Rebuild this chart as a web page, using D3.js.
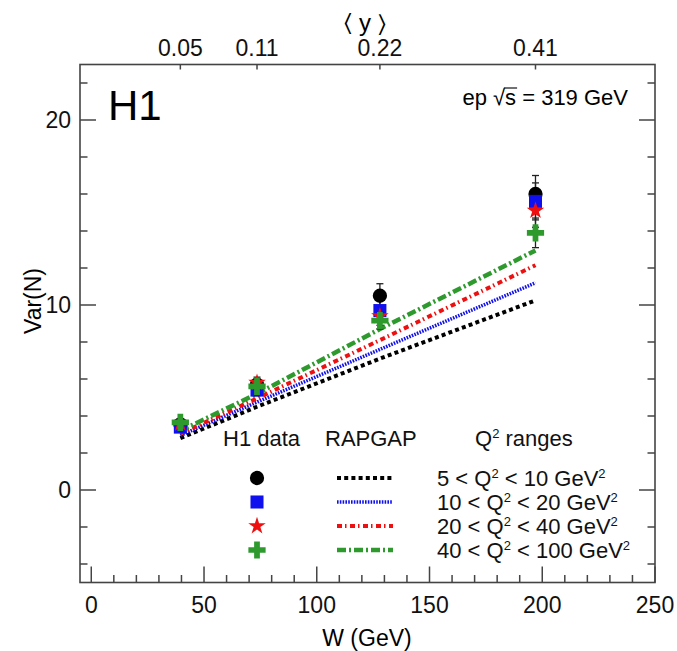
<!DOCTYPE html>
<html>
<head>
<meta charset="utf-8">
<script src="https://cdn.jsdelivr.net/npm/d3@7"></script>
<style>
  body { margin: 0; background: #fff; }
  svg { font-family: 'Liberation Sans', Arial, Helvetica, sans-serif; }
</style>
</head>
<body>
<svg id="chart" width="677" height="651"></svg>
<script>
// W values of the four bins, and the mean y in each
const wBins = [39.5, 73.5, 128, 197]
const yMean = ['0.05', '0.11', '0.22', '0.41']

const q2Labels = ['5', '10', '20', '40']
const q2Upper = ['10', '20', '40', '100']

// H1 data: Var(N) per Q2 range
const dataBlack = [3.55, 5.7, 10.5, 16.0]
const dataBlue = [3.4, 5.4, 9.7, 15.6]
const dataRed = [3.6, 5.8, 9.4, 15.1]
const dataGreen = [3.65, 5.6, 9.15, 13.9]

const errBlack = [0.25, 0.3, 0.65, 1.0]
const errBlue = [0.2, 0.3, 0.55, 1.0]
const errRed = [0.2, 0.3, 0.5, 0.9]
const errGreen = [0.2, 0.25, 0.45, 0.8]

// RAPGAP predictions
const mcBlack = [2.8, 4.5, 7.1, 10.25]
const mcBlue = [2.95, 4.75, 7.6, 11.2]
const mcRed = [3.05, 4.95, 8.1, 12.15]
const mcGreen = [3.2, 5.2, 8.7, 12.95]

const xTicks = [0, 50, 100, 150, 200, 250]
const yTicks = [0, 10, 20]

const series = [
  { data: dataBlack, err: errBlack, mc: mcBlack, color: '#000', marker: 'circle', dash: '4,3.2', lw: 4 },
  { data: dataBlue, err: errBlue, mc: mcBlue, color: '#1010ee', marker: 'square', dash: '1.6,1.2', lw: 3.5 },
  { data: dataRed, err: errRed, mc: mcRed, color: '#ee1010', marker: 'star', dash: '5,3,1.5,3.5', lw: 4 },
  { data: dataGreen, err: errGreen, mc: mcGreen, color: '#2e9a2e', marker: 'cross', dash: '9,3,2,3', lw: 4.5 },
]

const svg = d3.select('#chart')
const frameL = 80, frameR = 655, frameT = 64.5, frameB = 582.5
const x = d3.scaleLinear().domain([-5, 250]).range([frameL, frameR])
const y = d3.scaleLinear().domain([-5, 23]).range([frameB, frameT])
const axisColor = '#444'

function markerPath(kind) {
  if (kind === 'circle') return d3.symbol(d3.symbolCircle, 160)()
  if (kind === 'square') return d3.symbol(d3.symbolSquare, 170)()
  if (kind === 'star') return d3.symbol(d3.symbolStar, 95)()
  return d3.symbol(d3.symbolCross, 165)()
}

// model lines
const line = d3.line().x((d, i) => x(wBins[i])).y((d) => y(d))
const lines = svg.append('g').attr('fill', 'none')
series.forEach((s) => {
  lines.append('path')
    .attr('d', line(s.mc))
    .attr('stroke', s.color)
    .attr('stroke-width', s.lw)
    .attr('stroke-dasharray', s.dash)
})

// error bars
const errs = svg.append('g').attr('stroke', '#222').attr('stroke-width', 1.3)
series.forEach((s) => {
  s.data.forEach((v, i) => {
    const cx = x(wBins[i])
    errs.append('line').attr('x1', cx).attr('x2', cx).attr('y1', y(v - s.err[i])).attr('y2', y(v + s.err[i]))
    ;[v - s.err[i], v + s.err[i]].forEach((e) => {
      errs.append('line').attr('x1', cx - 3.5).attr('x2', cx + 3.5).attr('y1', y(e)).attr('y2', y(e))
    })
  })
})

// markers
series.forEach((s) => {
  svg.append('g')
    .selectAll('path')
    .data(s.data)
    .join('path')
    .attr('d', markerPath(s.marker))
    .attr('transform', (d, i) => `translate(${x(wBins[i])},${y(d)})`)
    .attr('fill', s.color)
})

// frame
svg.append('rect')
  .attr('x', frameL).attr('y', frameT)
  .attr('width', frameR - frameL).attr('height', frameB - frameT)
  .attr('fill', 'none').attr('stroke', axisColor).attr('stroke-width', 1.6)

// ticks (inward, both sides)
const ticks = svg.append('g').attr('stroke', axisColor).attr('stroke-width', 1.5)
d3.range(0, 251, 10).forEach((v) => {
  const len = v % 50 === 0 ? 16 : 7.5
  ticks.append('line').attr('x1', x(v)).attr('x2', x(v)).attr('y1', frameB).attr('y2', frameB - len)
})
d3.range(-4, 23, 2).forEach((v) => {
  const len = v % 10 === 0 ? 16 : 7.5
  ticks.append('line').attr('x1', frameL).attr('x2', frameL + len).attr('y1', y(v)).attr('y2', y(v))
  ticks.append('line').attr('x1', frameR).attr('x2', frameR - len).attr('y1', y(v)).attr('y2', y(v))
})
wBins.forEach((w) => {
  ticks.append('line').attr('x1', x(w)).attr('x2', x(w)).attr('y1', frameT).attr('y2', frameT + 5)
})

// tick labels
const labels = svg.append('g').attr('font-size', 23).attr('fill', '#111')
labels.selectAll('.xl').data(xTicks).join('text')
  .attr('x', (d) => x(d)).attr('y', 613).attr('text-anchor', 'middle').text((d) => d)
labels.selectAll('.yl').data(yTicks).join('text')
  .attr('x', 71).attr('y', (d) => y(d) + 8).attr('text-anchor', 'end').text((d) => d)
labels.selectAll('.tl').data(wBins).join('text')
  .attr('x', (d) => x(d)).attr('y', 56).attr('text-anchor', 'middle').text((d, i) => yMean[i])

// axis titles
svg.append('text').attr('x', 367).attr('y', 646).attr('text-anchor', 'middle')
  .attr('font-size', 23).text('W (GeV)')
svg.append('text').attr('transform', 'translate(41,301) rotate(-90)').attr('text-anchor', 'middle')
  .attr('font-size', 23).text('Var(N)')
svg.append('text').attr('x', 365).attr('y', 31).attr('text-anchor', 'middle')
  .attr('font-size', 24).text('\u2329 y \u232A')

// headers
svg.append('text').attr('x', 108).attr('y', 120).attr('font-size', 42).text('H1')
const ep = svg.append('text').attr('x', 628).attr('y', 105).attr('text-anchor', 'end').attr('font-size', 22)
ep.text('ep \u221As = 319 GeV')
// overline of the square root
const sBox = ep.node().getExtentOfChar(4)
svg.append('line')
  .attr('x1', sBox.x - 1).attr('x2', sBox.x + sBox.width + 1)
  .attr('y1', sBox.y + 3).attr('y2', sBox.y + 3)
  .attr('stroke', '#111').attr('stroke-width', 1.2)

// legend
const leg = svg.append('g').attr('font-size', 22).attr('fill', '#111')
leg.append('text').attr('x', 223).attr('y', 446).text('H1 data')
leg.append('text').attr('x', 325).attr('y', 446).text('RAPGAP')
const qh = leg.append('text').attr('x', 475).attr('y', 446)
qh.append('tspan').text('Q')
qh.append('tspan').attr('font-size', 13).attr('dy', -8).text('2')
qh.append('tspan').attr('dy', 8).text(' ranges')

const rowY = [478, 502, 526, 550]
series.forEach((s, i) => {
  const ry = rowY[i]
  leg.append('path').attr('d', markerPath(s.marker)).attr('transform', `translate(257,${ry})`).attr('fill', s.color)
  leg.append('line').attr('x1', 337).attr('x2', 393).attr('y1', ry).attr('y2', ry)
    .attr('stroke', s.color).attr('stroke-width', s.lw).attr('stroke-dasharray', s.dash)
  const t = leg.append('text').attr('x', 437).attr('y', ry + 8)
  t.append('tspan').text(`${q2Labels[i]} < Q`)
  t.append('tspan').attr('font-size', 13).attr('dy', -8).text('2')
  t.append('tspan').attr('dy', 8).text(` < ${q2Upper[i]} GeV`)
  t.append('tspan').attr('font-size', 13).attr('dy', -8).text('2')
})
</script>
</body>
</html>
